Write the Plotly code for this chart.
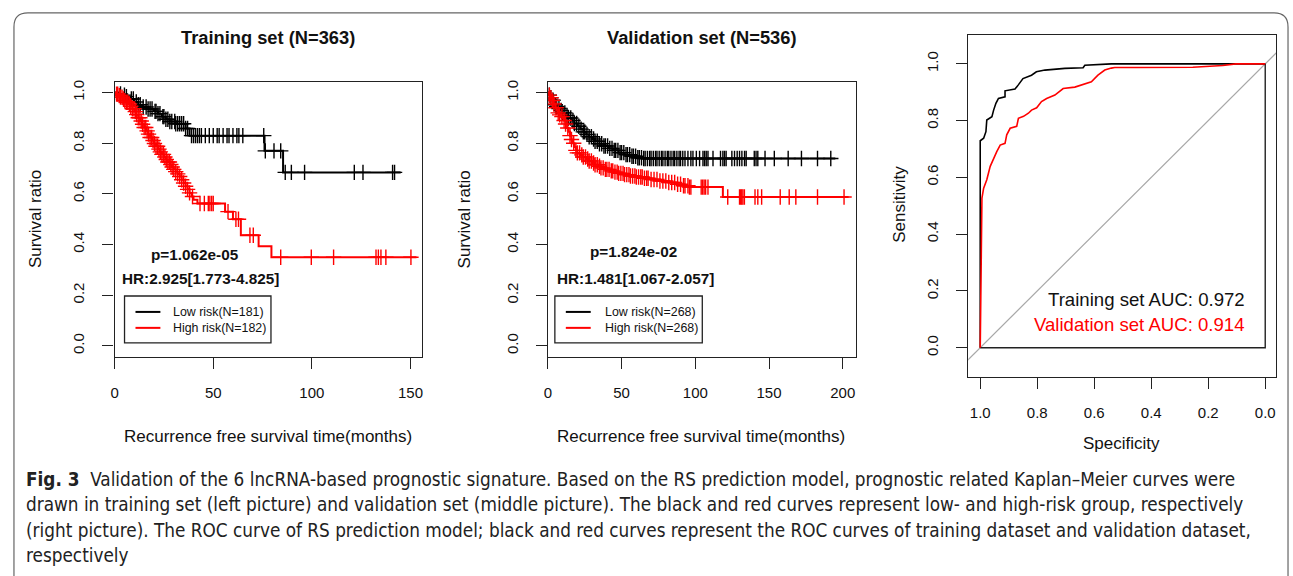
import numpy as np
import plotly.graph_objects as go

W, H = 1293, 576
FONT = "Liberation Sans, Arial, sans-serif"
CAP_FONT = "Liberation Sans Narrow, DejaVu Sans Condensed, Roboto, sans-serif"

# ---------------- Training set KM data ----------------
tr_low_t = [0, 2, 4, 6, 8, 10, 12, 14, 17, 20, 22, 24, 26, 28, 31, 36, 38, 76.0, 85.4]
tr_low_s = [1.0, 0.995, 0.99, 0.984, 0.975, 0.963, 0.952, 0.943, 0.935, 0.926, 0.917,
            0.905, 0.895, 0.886, 0.877, 0.858, 0.830, 0.770, 0.685]
tr_low_end = 145
tr_low_cens = [3, 5, 6, 8.5, 9.5, 11, 12, 13, 14.5, 16, 17, 18, 19, 20.5, 21, 22, 23, 24.5, 25,
               26, 27, 28, 29, 30.5, 31, 32, 33, 34, 35, 36, 37, 39, 40, 41, 42, 43, 44, 46,
               48, 50, 52, 53, 55, 57, 58, 60, 62, 63, 65, 75.6, 76.4, 80.8, 84.2, 86.5,
               89.6, 96.3, 121.5, 125.9, 140.9, 141.9]

tr_high_t = [0, 1, 2, 3, 4, 5, 6, 7, 8, 9, 10, 11, 12, 13, 14, 15, 16, 17, 18, 19, 20, 21,
             22, 23, 24, 25, 26, 27, 28, 29, 30, 31, 32, 33, 34, 35, 36, 37, 38, 39, 40, 42,
             56, 60, 64, 73, 79.5]
tr_high_s = [1.0, 0.994, 0.988, 0.982, 0.975, 0.968, 0.962, 0.955, 0.946, 0.936, 0.925,
             0.913, 0.901, 0.888, 0.875, 0.862, 0.849, 0.836, 0.823, 0.811, 0.799, 0.788,
             0.777, 0.766, 0.756, 0.746, 0.736, 0.726, 0.716, 0.706, 0.697, 0.688, 0.679,
             0.669, 0.656, 0.643, 0.630, 0.618, 0.604, 0.590, 0.577, 0.562, 0.530, 0.500,
             0.437, 0.393, 0.350]
tr_high_end = 153
tr_high_cens = [1, 1.6, 2.4, 3, 3.8, 4.5, 5.2, 6, 6.7, 7.5, 8.2, 9, 9.8, 10.5, 11.2, 12,
                12.8, 13.5, 14.2, 15, 15.8, 16.5, 17.2, 18, 18.8, 19.5, 20.2, 21, 21.8, 22.5,
                23.2, 24, 24.8, 25.5, 26.2, 27, 27.8, 28.5, 29.2, 30, 31, 32, 33, 34, 35, 36,
                37, 38, 39.5, 43.3, 45.5, 47.5, 48.3, 49.2, 50, 57.5, 61.5, 62.8, 68.6, 70.3,
                84.2, 99.7, 111, 132.5, 133.7, 135, 137.5, 150.2]

# ---------------- Validation set KM data ----------------
va_low_t = [0, 1, 2, 3, 4, 5, 6, 7, 8, 10, 12, 14, 16, 18, 20, 22, 24, 26, 28, 30, 32, 35,
            38, 41, 44, 48, 52, 56, 60, 64]
va_low_s = [1.0, 0.99, 0.98, 0.97, 0.96, 0.952, 0.944, 0.937, 0.93, 0.92, 0.91, 0.9, 0.89,
            0.878, 0.867, 0.856, 0.845, 0.835, 0.826, 0.817, 0.808, 0.798, 0.789, 0.78,
            0.772, 0.763, 0.755, 0.749, 0.743, 0.740]
va_low_end = 195
va_low_cens = [1, 2, 3.5, 5, 6, 7.5, 9, 10, 11.5, 13, 14, 15.5, 17, 18, 19.5, 21, 22.5, 24, 25,
               26.5, 28, 29.5, 31, 32, 33.5, 35, 36.5, 38, 39, 40.5, 42, 43.5, 45, 46, 47.5,
               49, 50, 51.5, 53, 54, 55.5, 57, 58, 59.5, 61, 62, 63.5, 65, 66, 67.5, 69, 70,
               71.5, 73, 74, 75.5, 77, 78, 79.5, 81, 82, 83.5, 85, 86, 87.5, 89, 90, 91.5, 93,
               95, 97, 98.4, 100.7, 102.9, 105.2, 106.3, 107.4, 108.6, 112, 117.1, 118.7,
               119.8, 120.9, 124.8, 126.6, 128.4, 130, 131.6, 133.4, 134.5, 140, 141.2, 142.4,
               147.3, 153.6, 163, 172, 182.9, 191.9]

va_high_t = [0, 1, 2, 3, 4, 5, 6, 7, 8, 9, 10, 11, 12, 13, 14, 15, 16, 17, 18, 19, 20, 22,
             24, 26, 28, 30, 32, 34, 36, 39, 42, 45, 48, 52, 56, 60, 65, 70, 76, 82, 87, 92,
             96, 118.7]
va_high_s = [1.0, 0.99, 0.98, 0.97, 0.955, 0.94, 0.93, 0.92, 0.912, 0.905, 0.9, 0.89,
             0.876, 0.86, 0.845, 0.83, 0.815, 0.80, 0.785, 0.772, 0.762, 0.754, 0.746,
             0.738, 0.73, 0.722, 0.715, 0.709, 0.703, 0.697, 0.691, 0.686, 0.681, 0.676,
             0.671, 0.667, 0.662, 0.657, 0.651, 0.645, 0.638, 0.632, 0.627, 0.588]
va_high_end = 204
va_high_cens = [1, 2, 3, 4, 5.5, 7, 8, 9.5, 11, 12, 13.5, 15, 16, 17.5, 19, 20, 21.5, 23, 24,
                25.5, 27, 28, 29.5, 31, 32, 33.5, 35, 36, 37.5, 39, 40, 41.5, 43, 44, 45.5, 47,
                48, 49.5, 51, 52, 53.5, 55, 56, 57.5, 59, 60, 61.5, 63, 64, 65.5, 67, 68, 70,
                72, 74, 76, 78, 80, 82, 84, 86, 88, 90, 92, 93, 95, 96, 97, 104, 105, 106, 107,
                108.6, 122, 130, 130.8, 131.5, 132.3, 133.3, 140.5, 142.4, 145, 157.6, 163.7,
                168.2, 182.9, 200.9]

# ---------------- ROC data ----------------
tr_roc_spec = [1.0, 1.0, 0.988, 0.98, 0.977, 0.959, 0.953, 0.945, 0.936, 0.913, 0.913, 0.878,
               0.867, 0.85, 0.82, 0.803, 0.773, 0.703, 0.639, 0.633, 0.54, 0.0]
tr_roc_sens = [0.0, 0.729, 0.738, 0.761, 0.802, 0.814, 0.837, 0.861, 0.878, 0.884, 0.905,
               0.911, 0.925, 0.948, 0.96, 0.972, 0.978, 0.984, 0.986, 0.995, 1.0, 1.0]
va_roc_spec = [1.0, 0.997, 0.994, 0.988, 0.977, 0.965, 0.953, 0.942, 0.93, 0.913, 0.907,
               0.895, 0.872, 0.866, 0.848, 0.831, 0.82, 0.802, 0.785, 0.767, 0.738, 0.709,
               0.668, 0.645, 0.61, 0.587, 0.563, 0.54, 0.528, 0.452, 0.254, 0.149, 0.103, 0.0]
va_roc_sens = [0.0, 0.347, 0.527, 0.562, 0.592, 0.639, 0.668, 0.691, 0.714, 0.72, 0.75,
               0.773, 0.78, 0.808, 0.815, 0.826, 0.837, 0.845, 0.867, 0.878, 0.89, 0.913,
               0.918, 0.925, 0.937, 0.96, 0.978, 0.985, 0.987, 0.987, 0.988, 0.994, 1.0, 1.0]

km_ticks_y = [0.0, 0.2, 0.4, 0.6, 0.8, 1.0]
tr_ticks_x = [0, 50, 100, 150]
va_ticks_x = [0, 50, 100, 150, 200]
roc_ticks = [1.0, 0.8, 0.6, 0.4, 0.2, 0.0]

BLACK = "#000000"
RED = "#ff0000"


def px(x):
    return x / W


def py(y):
    return 1 - y / H


def step_at(ts, ss, t):
    i = np.searchsorted(np.array(ts), t, side="right") - 1
    return ss[max(i, 0)]


fig = go.Figure()


def add_km(xa, ya, t, s, end, cens, color):
    xs = list(t) + [end]
    ys = list(s) + [s[-1]]
    fig.add_trace(go.Scatter(x=xs, y=ys, mode="lines", line=dict(color=color, width=2, shape="hv"),
                             xaxis=xa, yaxis=ya, showlegend=False, hoverinfo="skip"))
    cy = [step_at(t, s, c) for c in cens]
    fig.add_trace(go.Scatter(x=cens, y=cy, mode="markers",
                             marker=dict(symbol="cross-thin", size=11,
                                         line=dict(color=color, width=1.4)),
                             xaxis=xa, yaxis=ya, showlegend=False, hoverinfo="skip"))


add_km("x", "y", tr_low_t, tr_low_s, tr_low_end, tr_low_cens, BLACK)
add_km("x", "y", tr_high_t, tr_high_s, tr_high_end, tr_high_cens, RED)
add_km("x2", "y2", va_low_t, va_low_s, va_low_end, va_low_cens, BLACK)
add_km("x2", "y2", va_high_t, va_high_s, va_high_end, va_high_cens, RED)

# ROC panel
fig.add_trace(go.Scatter(x=[1.1, -0.1], y=[-0.1, 1.1], mode="lines",
                         line=dict(color="#a8a8a8", width=1.2), xaxis="x3", yaxis="y3",
                         showlegend=False, hoverinfo="skip"))
fig.add_trace(go.Scatter(x=[1.0, 0.0, 0.0], y=[0.0, 0.0, 1.0], mode="lines",
                         line=dict(color="#222", width=1.4), xaxis="x3", yaxis="y3",
                         showlegend=False, hoverinfo="skip"))
fig.add_trace(go.Scatter(x=tr_roc_spec, y=tr_roc_sens, mode="lines",
                         line=dict(color=BLACK, width=1.6), xaxis="x3", yaxis="y3",
                         showlegend=False, hoverinfo="skip"))
fig.add_trace(go.Scatter(x=va_roc_spec, y=va_roc_sens, mode="lines",
                         line=dict(color=RED, width=1.6), xaxis="x3", yaxis="y3",
                         showlegend=False, hoverinfo="skip"))

axis_common = dict(showline=True, mirror=True, linecolor="#222", linewidth=1.3,
                   ticks="outside", ticklen=11, tickwidth=1.3, tickcolor="#222",
                   showgrid=False, zeroline=False,
                   tickfont=dict(family=FONT, size=15, color="#111"))

fig.update_layout(
    width=W, height=H, margin=dict(l=0, r=0, t=0, b=0),
    paper_bgcolor="white", plot_bgcolor="white",
    xaxis=dict(domain=[px(111), px(420)], range=[0, 156], tickvals=tr_ticks_x,
               anchor="y", ticklabelstandoff=11, **axis_common),
    yaxis=dict(domain=[py(356), py(80)], range=[-0.043, 1.043], tickvals=km_ticks_y,
               tickformat=".1f", tickangle=-90, anchor="x", ticklabelstandoff=12, **axis_common),
    xaxis2=dict(domain=[px(546), px(855)], range=[0, 208.8], tickvals=va_ticks_x,
                anchor="y2", ticklabelstandoff=11, **axis_common),
    yaxis2=dict(domain=[py(356), py(80)], range=[-0.043, 1.043], tickvals=km_ticks_y,
                tickformat=".1f", tickangle=-90, anchor="x2", ticklabelstandoff=12, **axis_common),
    xaxis3=dict(domain=[px(968), px(1277)], range=[1.042, -0.038], tickvals=roc_ticks,
                tickformat=".1f", anchor="y3", ticklabelstandoff=11, **axis_common),
    yaxis3=dict(domain=[py(376), py(33)], range=[-0.102, 1.102], tickvals=km_ticks_y,
                tickformat=".1f", tickangle=-90, anchor="x3", ticklabelstandoff=12, **axis_common),
)

ann = []


def text(x, y, s, size=15, bold=False, color="#111", angle=0, xanchor="center", family=FONT):
    ann.append(dict(x=px(x), y=py(y), xref="paper", yref="paper", text=(f"<b>{s}</b>" if bold else s),
                    showarrow=False, xanchor=xanchor, yanchor="middle", textangle=angle,
                    font=dict(family=family, size=size, color=color)))


# titles
text(265, 36, "Training set (N=363)", size=18.3, bold=True)
text(700, 36, "Validation set (N=536)", size=18.3, bold=True)
# axis titles
text(265, 436, "Recurrence free survival time(months)", size=17)
text(700, 436, "Recurrence free survival time(months)", size=17)
text(31, 218, "Survival ratio", size=17, angle=-90)
text(462, 218, "Survival ratio", size=17, angle=-90)
text(1122, 443, "Specificity", size=17)
text(899, 203, "Sensitivity", size=17, angle=-90)
# stats
text(192, 253, "p=1.062e-05", size=15.3, bold=True)
text(197, 277, "HR:2.925[1.773-4.825]", size=15.3, bold=True)
text(632, 250, "p=1.824e-02", size=15.3, bold=True)
text(634, 277, "HR:1.481[1.067-2.057]", size=15.3, bold=True)
# legends
text(168, 311, "Low risk(N=181)", size=12.4, xanchor="left")
text(168, 327, "High risk(N=182)", size=12.4, xanchor="left")
text(601, 311, "Low risk(N=268)", size=12.4, xanchor="left")
text(601, 327, "High risk(N=268)", size=12.4, xanchor="left")
# AUC
text(1248, 299, "Training set AUC: 0.972", size=18.6, xanchor="right", color="#111")
text(1248, 324, "Validation set AUC: 0.914", size=18.6, xanchor="right", color=RED)

# caption
cap_lines = [
    "<b>Fig. 3</b>  Validation of the 6 lncRNA-based prognostic signature. Based on the RS prediction model, prognostic related Kaplan–Meier curves were",
    "drawn in training set (left picture) and validation set (middle picture). The black and red curves represent low- and high-risk group, respectively",
    "(right picture). The ROC curve of RS prediction model; black and red curves represent the ROC curves of training dataset and validation dataset,",
    "respectively",
]
for i, line in enumerate(cap_lines):
    ann.append(dict(x=px(20), y=py(479 + 25.5 * i), xref="paper", yref="paper", text=line,
                    showarrow=False, xanchor="left", yanchor="middle",
                    font=dict(family=CAP_FONT, size=18.8, color="#222")))

fig.update_layout(annotations=ann)

shapes = []
# legend boxes
for (x0, x1) in [(121, 268), (553, 701)]:
    shapes.append(dict(type="rect", xref="paper", yref="paper", x0=px(x0), x1=px(x1),
                       y0=py(342), y1=py(295), line=dict(color="#222", width=1.3)))
    shapes.append(dict(type="line", xref="paper", yref="paper", x0=px(x0 + 11), x1=px(x0 + 36),
                       y0=py(311), y1=py(311), line=dict(color=BLACK, width=2)))
    shapes.append(dict(type="line", xref="paper", yref="paper", x0=px(x0 + 11), x1=px(x0 + 36),
                       y0=py(327), y1=py(327), line=dict(color=RED, width=2)))

# outer rounded frame
r = 14
L, T, R, B = 10, 11, 1289, 590
path = (f"M {px(L)},{py(B)} L {px(L)},{py(T + r)} Q {px(L)},{py(T)} {px(L + r)},{py(T)} "
        f"L {px(R - r)},{py(T)} Q {px(R)},{py(T)} {px(R)},{py(T + r)} L {px(R)},{py(B)}")
shapes.append(dict(type="path", xref="paper", yref="paper", path=path,
                   line=dict(color="#666", width=1.2)))
fig.update_layout(shapes=shapes)

fig.write_html("out.html", config={"displayModeBar": False},
               post_script="document.body.style.margin='0';document.body.style.overflow='hidden';")
